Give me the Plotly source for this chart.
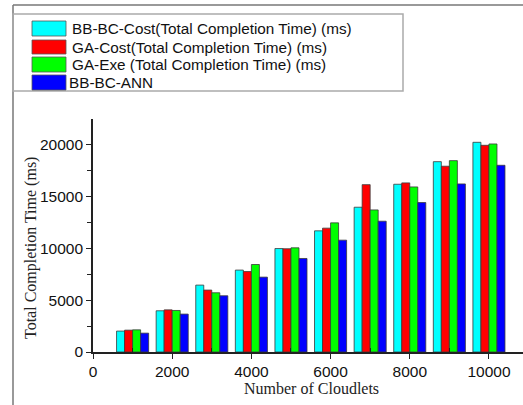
import plotly.graph_objects as go

cloudlets = [1000, 2000, 3000, 4000, 5000, 6000, 7000, 8000, 9000, 10000]
bbbc_cost = [2020, 3980, 6460, 7910, 9990, 11700, 13980, 16200, 18380, 20250]
ga_cost = [2110, 4070, 5980, 7770, 9970, 11960, 16160, 16330, 17940, 19960]
ga_exe = [2140, 4010, 5720, 8450, 10060, 12470, 13720, 15940, 18480, 20090]
bbbc_ann = [1820, 3660, 5430, 7230, 9030, 10800, 12630, 14430, 16230, 18030]

names = ["BB-BC-Cost(Total Completion Time) (ms)",
         "GA-Cost(Total Completion Time) (ms)",
         "GA-Exe (Total Completion Time) (ms)",
         "BB-BC-ANN"]
colors = ["#00FFFF", "#FF0000", "#00FF00", "#0000FF"]
series = [bbbc_cost, ga_cost, ga_exe, bbbc_ann]
x_ticks = [0, 2000, 4000, 6000, 8000, 10000]
y_ticks = [0, 5000, 10000, 15000, 20000]

W, H = 523, 405
L, R, T, B = 93, 0, 119, 53
PW, PH = W - L - R, H - T - B


def px(x):
    return (x - L) / PW


def py(y):
    return (H - B - y) / PH


fig = go.Figure()
for n, c, s in zip(names, colors, series):
    fig.add_trace(go.Bar(x=cloudlets, y=s, name=n, marker_color=c,
                         marker_line=dict(color="#3a3a3a", width=0.8),
                         showlegend=False))

axis_font = dict(family="Liberation Sans, Arial", size=15.5, color="#111")
title_font = dict(family="Liberation Serif, Times New Roman", size=16, color="#222")

fig.update_layout(
    width=W, height=H,
    margin=dict(l=L, r=R, t=T, b=B, autoexpand=False),
    paper_bgcolor="white", plot_bgcolor="white",
    barmode="group", bargap=0.19, bargroupgap=0,
    xaxis=dict(range=[0, 10860], tickvals=x_ticks, ticktext=[str(v) for v in x_ticks],
               ticks="outside", ticklen=5, tickwidth=1.3, tickcolor="#222",
               minor=dict(tickvals=[1000, 3000, 5000, 7000, 9000], ticks="inside",
                          ticklen=4, tickwidth=1.3, tickcolor="#222"),
               showline=True, linecolor="#222", linewidth=1.6, automargin=False,
               showgrid=False, zeroline=False, tickfont=axis_font),
    yaxis=dict(range=[0, 22500], tickvals=y_ticks, ticktext=[str(v) for v in y_ticks],
               ticks="outside", ticklen=5, tickwidth=1.3, tickcolor="#222",
               minor=dict(tickvals=[2500, 7500, 12500, 17500], ticks="outside",
                          ticklen=4, tickwidth=1.3, tickcolor="#222"),
               showline=True, linecolor="#222", linewidth=1.6, automargin=False,
               showgrid=False, zeroline=False, tickfont=axis_font),
)

shapes = []
shapes.append(dict(type="line", xref="paper", yref="paper", x0=px(13), x1=px(523),
                   y0=py(5), y1=py(5), line=dict(color="#777", width=1.5)))
shapes.append(dict(type="line", xref="paper", yref="paper", x0=px(13), x1=px(13),
                   y0=py(5), y1=py(405), line=dict(color="#777", width=1.5)))
shapes.append(dict(type="rect", xref="paper", yref="paper", x0=px(13), x1=px(403),
                   y0=py(91), y1=py(14), line=dict(color="#aaa", width=1.5),
                   fillcolor="rgba(0,0,0,0)"))
rows = [(21, 36), (40, 54), (57, 72), (75, 90)]
text_x = [70, 70, 70, 67]
annotations = []
for (y0, y1), n, c, tx in zip(rows, names, colors, text_x):
    shapes.append(dict(type="rect", xref="paper", yref="paper", x0=px(32), x1=px(66),
                       y0=py(y1), y1=py(y0), line=dict(color="#555", width=0.8),
                       fillcolor=c))
    annotations.append(dict(xref="paper", yref="paper", x=px(tx), y=py((y0 + y1) / 2),
                            text=n, showarrow=False, xanchor="left", yanchor="middle",
                            font=dict(family="Liberation Sans, Arial", size=15.3, color="#111")))

annotations.append(dict(xref="paper", yref="paper", x=px(311), y=py(388),
                        text="Number of Cloudlets", showarrow=False,
                        xanchor="center", yanchor="middle", font=title_font))
annotations.append(dict(xref="paper", yref="paper", x=px(31), y=py(248),
                        text="Total Completion Time (ms)", showarrow=False, textangle=-90,
                        xanchor="center", yanchor="middle", font=title_font))

fig.update_layout(shapes=shapes, annotations=annotations)
fig.write_html("out.html", config={"displayModeBar": False},
               post_script="document.body.style.margin='0';document.body.style.overflow='hidden';")
